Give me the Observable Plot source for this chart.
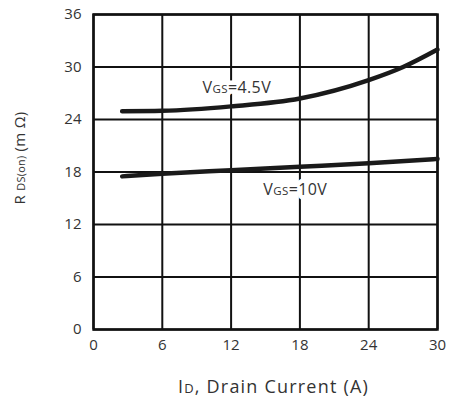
<!DOCTYPE html>
<html><head><meta charset="utf-8">
<script src="https://cdn.jsdelivr.net/npm/d3@7"></script>
<script src="https://cdn.jsdelivr.net/npm/@observablehq/plot@0.6"></script>
<style>body{margin:0;background:#fff}svg{display:block}</style>
</head><body><div id="chart"></div>
<script>
const xTicks = [0, 6, 12, 18, 24, 30];
const yTicks = [0, 6, 12, 18, 24, 30, 36];
const id45 = [2.5, 6, 12, 18, 24, 27, 30];
const r45 = [24.95, 25.0, 25.5, 26.4, 28.5, 30.0, 32.0];
const id10 = [2.5, 6, 12, 18, 24, 30];
const r10 = [17.5, 17.8, 18.2, 18.6, 19.0, 19.5];
const seriesNames = ["4.5V", "10V"];
const labels = [
  {x: 9.5, y: 27.65, text: "VGS=4.5V"},
  {x: 14.8, y: 16.0, text: "VGS=10V"}
];

const rows = [
  ...id45.map((d, i) => ({id: d, r: r45[i], s: seriesNames[0]})),
  ...id10.map((d, i) => ({id: d, r: r10[i], s: seriesNames[1]}))
];

const font = "'Open Sans', sans-serif";
const chart = Plot.plot({
  width: 449, height: 403,
  marginLeft: 93, marginRight: 12, marginTop: 14, marginBottom: 74,
  style: {fontFamily: font, fontSize: "15px", color: "#333", background: "#fff"},
  x: {domain: [0, 30], ticks: xTicks, tickSize: 0, tickPadding: 10, label: null},
  y: {domain: [0, 36], ticks: yTicks, tickSize: 0, tickPadding: 12, label: null},
  marks: [
    Plot.gridX(xTicks, {stroke: "#111", strokeOpacity: 1, strokeWidth: 2}),
    Plot.gridY(yTicks, {stroke: "#111", strokeOpacity: 1, strokeWidth: 2}),
    Plot.frame({stroke: "#111", strokeWidth: 2.5}),
    Plot.line(rows, {x: "id", y: "r", z: "s", curve: "monotone-x", stroke: "#1a1a1a", strokeWidth: 4.5}),
    Plot.text(labels, {x: "x", y: "y", text: "text", textAnchor: "start", fontSize: 16, fill: "white", stroke: "white", strokeWidth: 9, strokeLinejoin: "round", className: "vlabel", ariaHidden: true}),
    Plot.text(labels, {x: "x", y: "y", text: "text", textAnchor: "start", fontSize: 16, fill: "#333", className: "vlabel"}),
    Plot.text(["RDS(on) (mΩ)"], {frameAnchor: "left", textAnchor: "middle", dx: -73, dy: -14, rotate: -90, fontSize: 15, fill: "#333", className: "ylab"}),
    Plot.text(["ID, Drain Current (A)"], {frameAnchor: "bottom", textAnchor: "middle", dy: 63, dx: 8, fontSize: 18, fill: "#333", className: "xlab"})
  ]
});
document.getElementById("chart").append(chart);

function split(sel, parts, ls) {
  d3.select(chart).selectAll(sel + " text").each(function() {
    const t = d3.select(this);
    const txt = t.text();
    const p = parts(txt);
    if (!p) return;
    t.text(null);
    if (ls) t.attr("letter-spacing", ls);
    p.forEach(([s, small]) => t.append("tspan").attr("font-size", small ? "0.72em" : null).text(s));
  });
}
split(".vlabel", txt => [["V", false], ["GS", true], [txt.slice(3), false]], "0.4px");
split(".ylab", txt => [["R ", false], ["DS(on)", true], [" (m ", false], ["Ω", false], [")", false]], "0.3px");
split(".xlab", txt => [["I", false], ["D", true], [txt.slice(2), false]], "1.2px");
</script></body></html>
